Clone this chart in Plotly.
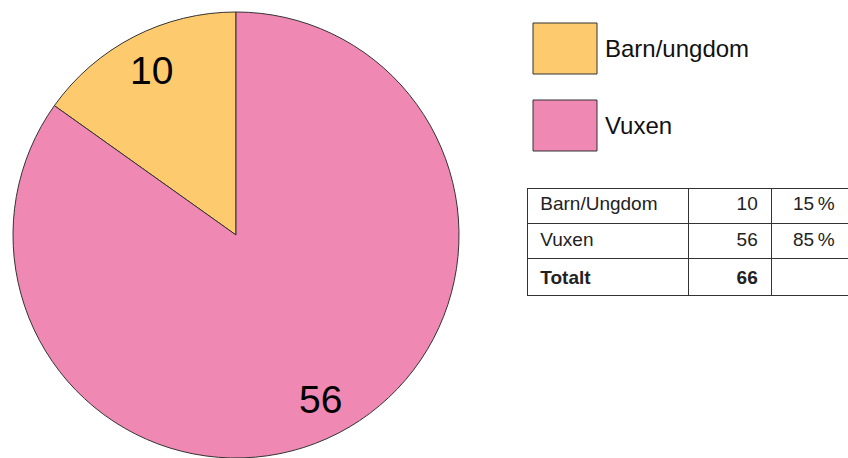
import math
import plotly.graph_objects as go

# ---- data ----
categories = ["Barn/ungdom", "Vuxen"]
values = [10, 56]
colors = ["#FDCB6E", "#F088B4"]

table_labels = ["Barn/Ungdom", "Vuxen", "Totalt"]
table_counts = [10, 56, 66]
table_pcts = ["15\u202f%", "85\u202f%", ""]

W, H = 848, 458
FONT = "Liberation Sans, Arial, Helvetica, sans-serif"

# pie domain (pixels -> paper)
px0, px1 = 12, 460
py_top, py_bot = 12, 458
dom_x = [px0 / W, px1 / W]
dom_y = [(H - py_bot) / H, (H - py_top) / H]

total = sum(values)
# first slice runs counterclockwise from 12 o'clock
rotation = -360.0 * values[0] / total

fig = go.Figure()
fig.add_trace(go.Pie(
    labels=categories,
    values=values,
    sort=False,
    direction="clockwise",
    rotation=rotation,
    marker=dict(colors=colors, line=dict(color="#333333", width=1)),
    textinfo="none",
    hoverinfo="label+value",
    showlegend=False,
    domain=dict(x=dom_x, y=dom_y),
))

# slice value labels placed along each slice's mid-angle (counterclockwise from top)
cx = (px0 + px1) / 2
r = min(px1 - px0, py_bot - py_top) / 2
cy = py_top + r
annotations = []
acc = 0
for v in values:
    mid = (acc + v / 2) / total * 2 * math.pi
    acc += v
    rr = 0.83 * r
    x = cx - rr * math.sin(mid)
    y = cy - rr * math.cos(mid)
    annotations.append(dict(
        x=x / W, y=1 - y / H, xref="paper", yref="paper",
        text=str(v), showarrow=False,
        font=dict(family=FONT, size=39, color="#000000"),
        xanchor="center", yanchor="middle",
    ))

# custom legend: large swatches
shapes = []
sw_x0, sw_x1 = 533, 597
sw_tops = [23, 100]
sw_h = 51
for cat, col, top in zip(categories, colors, sw_tops):
    shapes.append(dict(
        type="rect", xref="paper", yref="paper",
        x0=sw_x0 / W, x1=sw_x1 / W,
        y0=1 - (top + sw_h) / H, y1=1 - top / H,
        fillcolor=col, line=dict(color="#333333", width=1),
    ))
    annotations.append(dict(
        x=603 / W, y=1 - (top + sw_h / 2) / H, xref="paper", yref="paper",
        text=cat, showarrow=False, xanchor="left", yanchor="middle",
        font=dict(family=FONT, size=24, color="#111111"),
    ))

# table
tb_x0, tb_x1 = 527, 848
tb_top, tb_bot = 188, 294
row_h = (tb_bot - tb_top) / 3
cell_text = [
    [" " + (f"<b>{t}</b>" if t == "Totalt" else t) for t in table_labels[1:]],
    [(f"<b>{c}</b>" if i == 2 else str(c)) + " " for i, c in enumerate(table_counts)][1:],
    [t + " " if t else "" for t in table_pcts[1:]],
]
header_text = [" " + table_labels[0], str(table_counts[0]) + " ", table_pcts[0] + " "]

fig.add_trace(go.Table(
    domain=dict(x=[tb_x0 / W, tb_x1 / W], y=[1 - (tb_bot + 4) / H, 1 - tb_top / H]),
    columnwidth=[161, 83, 77],
    header=dict(
        values=header_text,
        align=["left", "right", "right"],
        fill=dict(color="white"),
        line=dict(color="#333333", width=1),
        font=dict(family=FONT, size=19, color="#222222"),
        height=row_h,
    ),
    cells=dict(
        values=cell_text,
        align=["left", "right", "right"],
        fill=dict(color="white"),
        line=dict(color="#333333", width=1),
        font=dict(family=FONT, size=19, color="#222222"),
        height=row_h,
    ),
))

fig.update_layout(
    width=W, height=H,
    margin=dict(l=0, r=0, t=0, b=0),
    paper_bgcolor="white",
    plot_bgcolor="white",
    annotations=annotations,
    shapes=shapes,
    showlegend=False,
)

fig.write_html(
    "out.html",
    config={"displayModeBar": False},
    post_script="document.body.style.margin='0';document.body.style.overflow='hidden';",
)
